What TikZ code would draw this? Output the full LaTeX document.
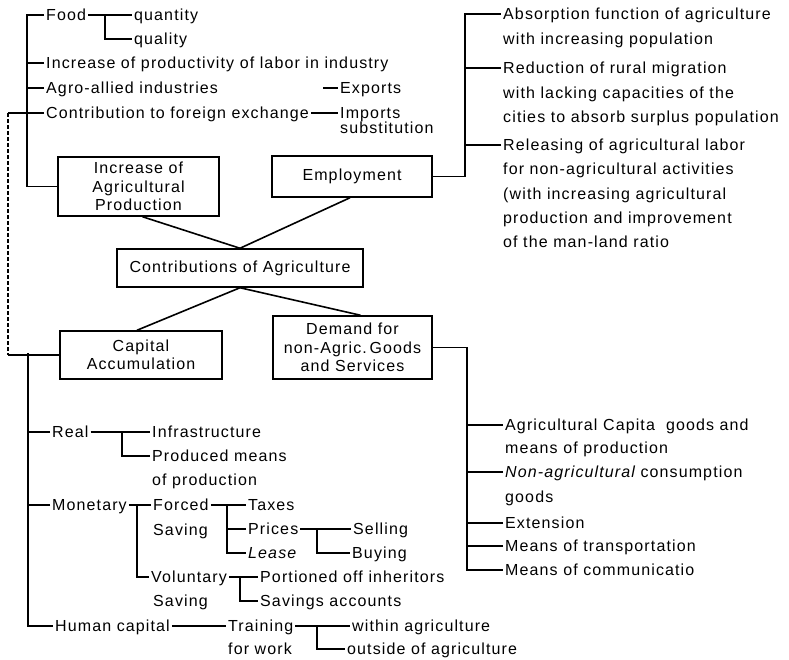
\documentclass[tikz,border=0pt]{standalone}
\usepackage{fontspec}
\setmainfont{Liberation Sans}[LetterSpace=7]
\usetikzlibrary{calc}
\tikzset{
  box/.style={draw,line width=1.5pt,align=center,inner sep=0pt,font=\fontsize{16}{18.5}\selectfont},
  item/.style={anchor=west,inner sep=2pt,text height=12pt,text depth=1pt,font=\fontsize{16}{18}\selectfont},
  link/.style={line width=1.6pt},
}
\begin{document}
\begin{tikzpicture}[x=1pt,y=-1pt]
\useasboundingbox (0,0) rectangle (789,660);

% the five boxes
\node[box,minimum width=161pt,minimum height=59pt] (incprod) at (138.5,186.5) {Increase of\\Agricultural\\Production};
\node[box,minimum width=160pt,minimum height=41pt] (employ) at (352,176.5) {Employment};
\node[box,minimum width=246pt,minimum height=38pt] (contrib) at (240,268) {Contributions of Agriculture};
\node[box,minimum width=162pt,minimum height=48pt] (capacc) at (141,355) {Capital\\Accumulation};
\node[box,minimum width=159pt,minimum height=63pt] (demand) at (352.5,347.5) {Demand for\\non-Agric.\,Goods\\and Services};

\draw[link] ([xshift=4pt]incprod.south) -- (contrib.north);
\draw[link] ([xshift=-2pt]employ.south) -- (contrib.north);
\draw[link] (contrib.south) -- ([xshift=-4pt]capacc.north);
\draw[link] (contrib.south) -- ([xshift=8pt]demand.north);

% production
\node[item] (food) at (44,15) {Food};
\node[item] (quantity) at (132,15) {quantity};
\node[item] (quality) at (132,39) {quality};
\node[item] (laborind) at (44,63) {Increase of productivity of labor in industry};
\node[item] (agro) at (44,88) {Agro-allied industries};
\node[item] (forex) at (44,113) {Contribution to foreign exchange};
\node[item] (exports) at (338,88) {Exports};
\node[item] (imports) at (338,113) {Imports};
\node[item] (subst) at (338,128) {substitution};

\coordinate (trunkA) at (27,15);
\coordinate (foodbr) at (105,15);
\coordinate (exptick) at (323,88);
\draw[link] (food.west) -- (trunkA) -- (trunkA |- incprod.west) -- (incprod.west);
\foreach \n in {laborind,agro,forex}
  \draw[link] (\n.west) -- (\n.west -| trunkA);
\draw[link] (food.east) -- (quantity.west);
\draw[link] (foodbr) |- (quality.west);
\draw[link] (exptick) -- (exports.west);
\draw[link] (forex.east) -- (imports.west);

% link to capital
\coordinate (dashtop) at (8,113);
\draw[link] (trunkA |- forex.west) -- (dashtop);
\draw[link,dash pattern=on 4pt off 2pt] (dashtop) -- (dashtop |- capacc.west);
\draw[link] (dashtop |- capacc.west) -- (capacc.west);

% employment
\node[item] (absorbA) at (501,14) {Absorption function of agriculture};
\node[item] (absorbB) at (501,39) {with increasing population};
\node[item] (ruralA) at (501,68) {Reduction of rural migration};
\node[item] (ruralB) at (501,93) {with lacking capacities of the};
\node[item] (ruralC) at (501,117) {cities to absorb surplus population};
\node[item] (releaseA) at (501,145) {Releasing of agricultural labor};
\node[item] (releaseB) at (501,169) {for non-agricultural activities};
\node[item] (releaseC) at (501,194) {(with increasing agricultural};
\node[item] (releaseD) at (501,218) {production and improvement};
\node[item] (releaseE) at (501,242) {of the man-land ratio};

\coordinate (trunkB) at (465,14);
\draw[link] (employ.east) -| (trunkB) -- (absorbA.west);
\foreach \n in {ruralA,releaseA}
  \draw[link] (\n.west) -- (\n.west -| trunkB);

% capital accumulation
\node[item] (real) at (50,432) {Real};
\node[item] (infra) at (150,432) {Infrastructure};
\node[item] (producedA) at (150,456) {Produced means};
\node[item] (producedB) at (150,480) {of production};
\node[item] (monetary) at (50,505) {Monetary};
\node[item] (forced) at (151,505) {Forced};
\node[item] (forcedsav) at (151,530) {Saving};
\node[item] (taxes) at (246,505) {Taxes};
\node[item] (prices) at (246,529) {Prices};
\node[item] (lease) at (246,553) {\itshape Lease};
\node[item] (selling) at (351,529) {Selling};
\node[item] (buying) at (350,553) {Buying};
\node[item] (voluntary) at (149,577) {Voluntary};
\node[item] (volsav) at (151,601) {Saving};
\node[item] (inherit) at (258,577) {Portioned off inheritors};
\node[item] (savacc) at (258,601) {Savings accounts};
\node[item] (humancap) at (53,626) {Human capital};
\node[item] (training) at (226,626) {Training};
\node[item] (forwork) at (226,649) {for work};
\node[item] (within) at (350,626) {within agriculture};
\node[item] (outside) at (345,649) {outside of agriculture};

\coordinate (trunkC) at (28,353);
\coordinate (realbr) at (122,432);
\coordinate (monbr) at (137,505);
\coordinate (forbr) at (227,505);
\coordinate (pricebr) at (317,529);
\coordinate (volbr) at (240,577);
\coordinate (trainbr) at (317,626);
\draw[link] (trunkC) |- (humancap.west);
\foreach \n in {real,monetary}
  \draw[link] (\n.west) -- (\n.west -| trunkC);
\draw[link] (real.east) -- (infra.west);
\draw[link] (realbr) |- (producedA.west);
\draw[link] (monetary.east) -- (forced.west);
\draw[link] (monbr) |- (voluntary.west);
\draw[link] (forced.east) -- (taxes.west);
\draw[link] (forbr) |- (lease.west);
\draw[link] (prices.west) -- (prices.west -| forbr);
\draw[link] (prices.east) -- (selling.west);
\draw[link] (pricebr) |- (buying.west);
\draw[link] (voluntary.east) -- (inherit.west);
\draw[link] (volbr) |- (savacc.west);
\draw[link] (humancap.east) -- (training.west);
\draw[link] (training.east) -- (within.west);
\draw[link] (trainbr) |- (outside.west);

% demand
\node[item] (capgoodsA) at (503,425) {Agricultural Capita\ \ goods and};
\node[item] (capgoodsB) at (503,448) {means of production};
\node[item] (nonagriA) at (503,472) {\itshape Non-agricultural\upshape\ consumption};
\node[item] (nonagriB) at (503,497) {goods};
\node[item] (extension) at (503,523) {Extension};
\node[item] (transport) at (503,546) {Means of transportation};
\node[item] (communic) at (503,570) {Means of communicatio};

\coordinate (trunkD) at (467,570);
\draw[link] (demand.east) -| (trunkD) -- (communic.west);
\foreach \n in {capgoodsA,nonagriA,extension,transport}
  \draw[link] (\n.west) -- (\n.west -| trunkD);

\end{tikzpicture}
\end{document}
